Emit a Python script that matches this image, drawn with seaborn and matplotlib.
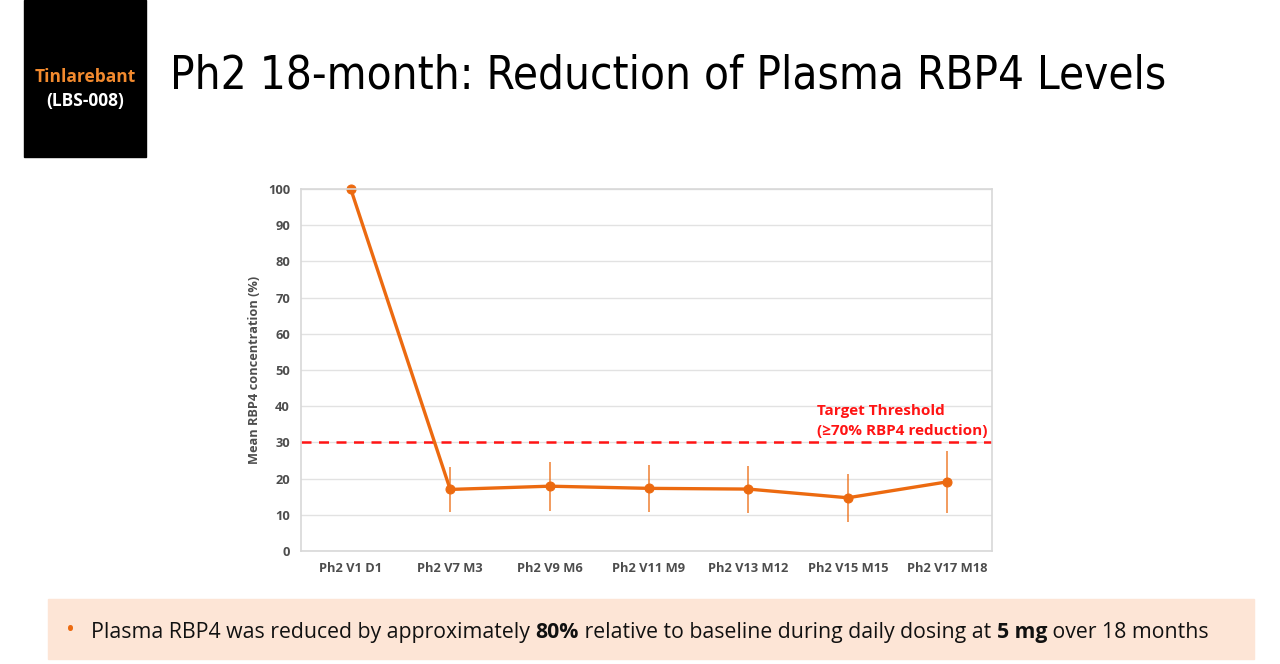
import matplotlib
matplotlib.use("Agg")
import matplotlib.pyplot as plt
import seaborn as sns
import pandas as pd
from matplotlib.patches import Rectangle

# data
visits = ["Ph2 V1 D1", "Ph2 V7 M3", "Ph2 V9 M6", "Ph2 V11 M9",
          "Ph2 V13 M12", "Ph2 V15 M15", "Ph2 V17 M18"]
mean_rbp4 = [100, 17.0, 17.9, 17.3, 17.1, 14.7, 19.1]
err_low = [0, 6.1, 6.9, 6.5, 6.5, 6.6, 8.7]
err_high = [0, 6.1, 6.8, 6.5, 6.4, 6.5, 8.4]
threshold = 30

orange = "#EC6A10"
red = "#FF1414"
gray_txt = "#4D4D4D"

sns.set_theme(style="white")
plt.rcParams["font.family"] = ["Open Sans", "DejaVu Sans"]

df = pd.DataFrame({"visit": visits, "mean": mean_rbp4})

fig = plt.figure(figsize=(12.8, 6.64), dpi=100)
ax = fig.add_axes([0.2352, 0.1702, 0.5398, 0.5452])

sns.lineplot(data=df, x="visit", y="mean", sort=False, color=orange,
             linewidth=2.4, marker="o", markersize=6.5,
             markeredgecolor=orange, ax=ax)
for ln in ax.lines:
    ln.set_clip_on(False)
ax.errorbar(range(len(visits)), mean_rbp4, yerr=[err_low, err_high],
            fmt="none", ecolor=orange, elinewidth=1.1, capsize=0, alpha=0.85)

ax.axhline(threshold, color=red, linestyle=(0, (4, 3)), linewidth=1.8, zorder=1)
ax.text(4.69, 38.8, "Target Threshold", color=red, fontsize=11,
        fontweight="bold", va="center", ha="left")
ax.text(4.69, 33.2, "(\u226570% RBP4 reduction)", color=red, fontsize=11,
        fontweight="bold", va="center", ha="left")

ax.set_ylim(0, 100)
ax.set_xlim(-0.5, 6.45)
ax.set_yticks(range(0, 101, 10))
ax.grid(axis="y", color="#E2E2E2", linewidth=1)
ax.set_axisbelow(True)
for s in ax.spines.values():
    s.set_color("#D8D8D8")
    s.set_linewidth(1.2)
ax.tick_params(axis="both", length=0, labelsize=9.3, labelcolor=gray_txt, pad=8)
for lab in ax.get_xticklabels() + ax.get_yticklabels():
    lab.set_fontweight("bold")
ax.set_xlabel("")
ax.set_ylabel("Mean RBP4 concentration (%)", fontsize=9.2, color=gray_txt,
              fontweight="bold", labelpad=5)

renderer = fig.canvas.get_renderer()

# title, sized to span the same width as in the slide
title = fig.text(0.1328, 0.886, "Ph2 18-month: Reduction of Plasma RBP4 Levels",
                 fontsize=40, color="black", va="center", ha="left",
                 family=["DejaVu Sans"], fontstretch="condensed")
tw = title.get_window_extent(renderer=renderer).width
title.set_fontsize(40 * 995 / tw)

# product badge
fig.patches.append(Rectangle((0.01875, 0.7636), 0.0953, 0.2364,
                             transform=fig.transFigure, color="black"))
fig.text(0.0664, 0.884, "Tinlarebant", color="#F28A2E", fontsize=12.5,
         fontweight="bold", ha="center", va="center")
fig.text(0.0664, 0.848, "(LBS-008)", color="white", fontsize=12.5,
         fontweight="bold", ha="center", va="center")

# bottom takeaway box
fig.patches.append(Rectangle((0.0375, 0.0075), 0.942, 0.0904,
                             transform=fig.transFigure, color="#FDE5D6"))
fig.text(0.0547, 0.05, "\u2022", color=orange, fontsize=17,
         ha="center", va="center")
pieces = [("Plasma RBP4 was reduced by approximately ", "normal"),
          ("80%", "bold"),
          (" relative to baseline during daily dosing at ", "normal"),
          ("5 mg", "bold"),
          (" over 18 months", "normal")]
x = 0.0711
for txt, w in pieces:
    t = fig.text(x, 0.048, txt, fontsize=15.3, fontweight=w, color="#111111",
                 ha="left", va="center")
    bb = t.get_window_extent(renderer=renderer)
    x += bb.width / fig.bbox.width

fig.savefig("out.png", dpi=100)
